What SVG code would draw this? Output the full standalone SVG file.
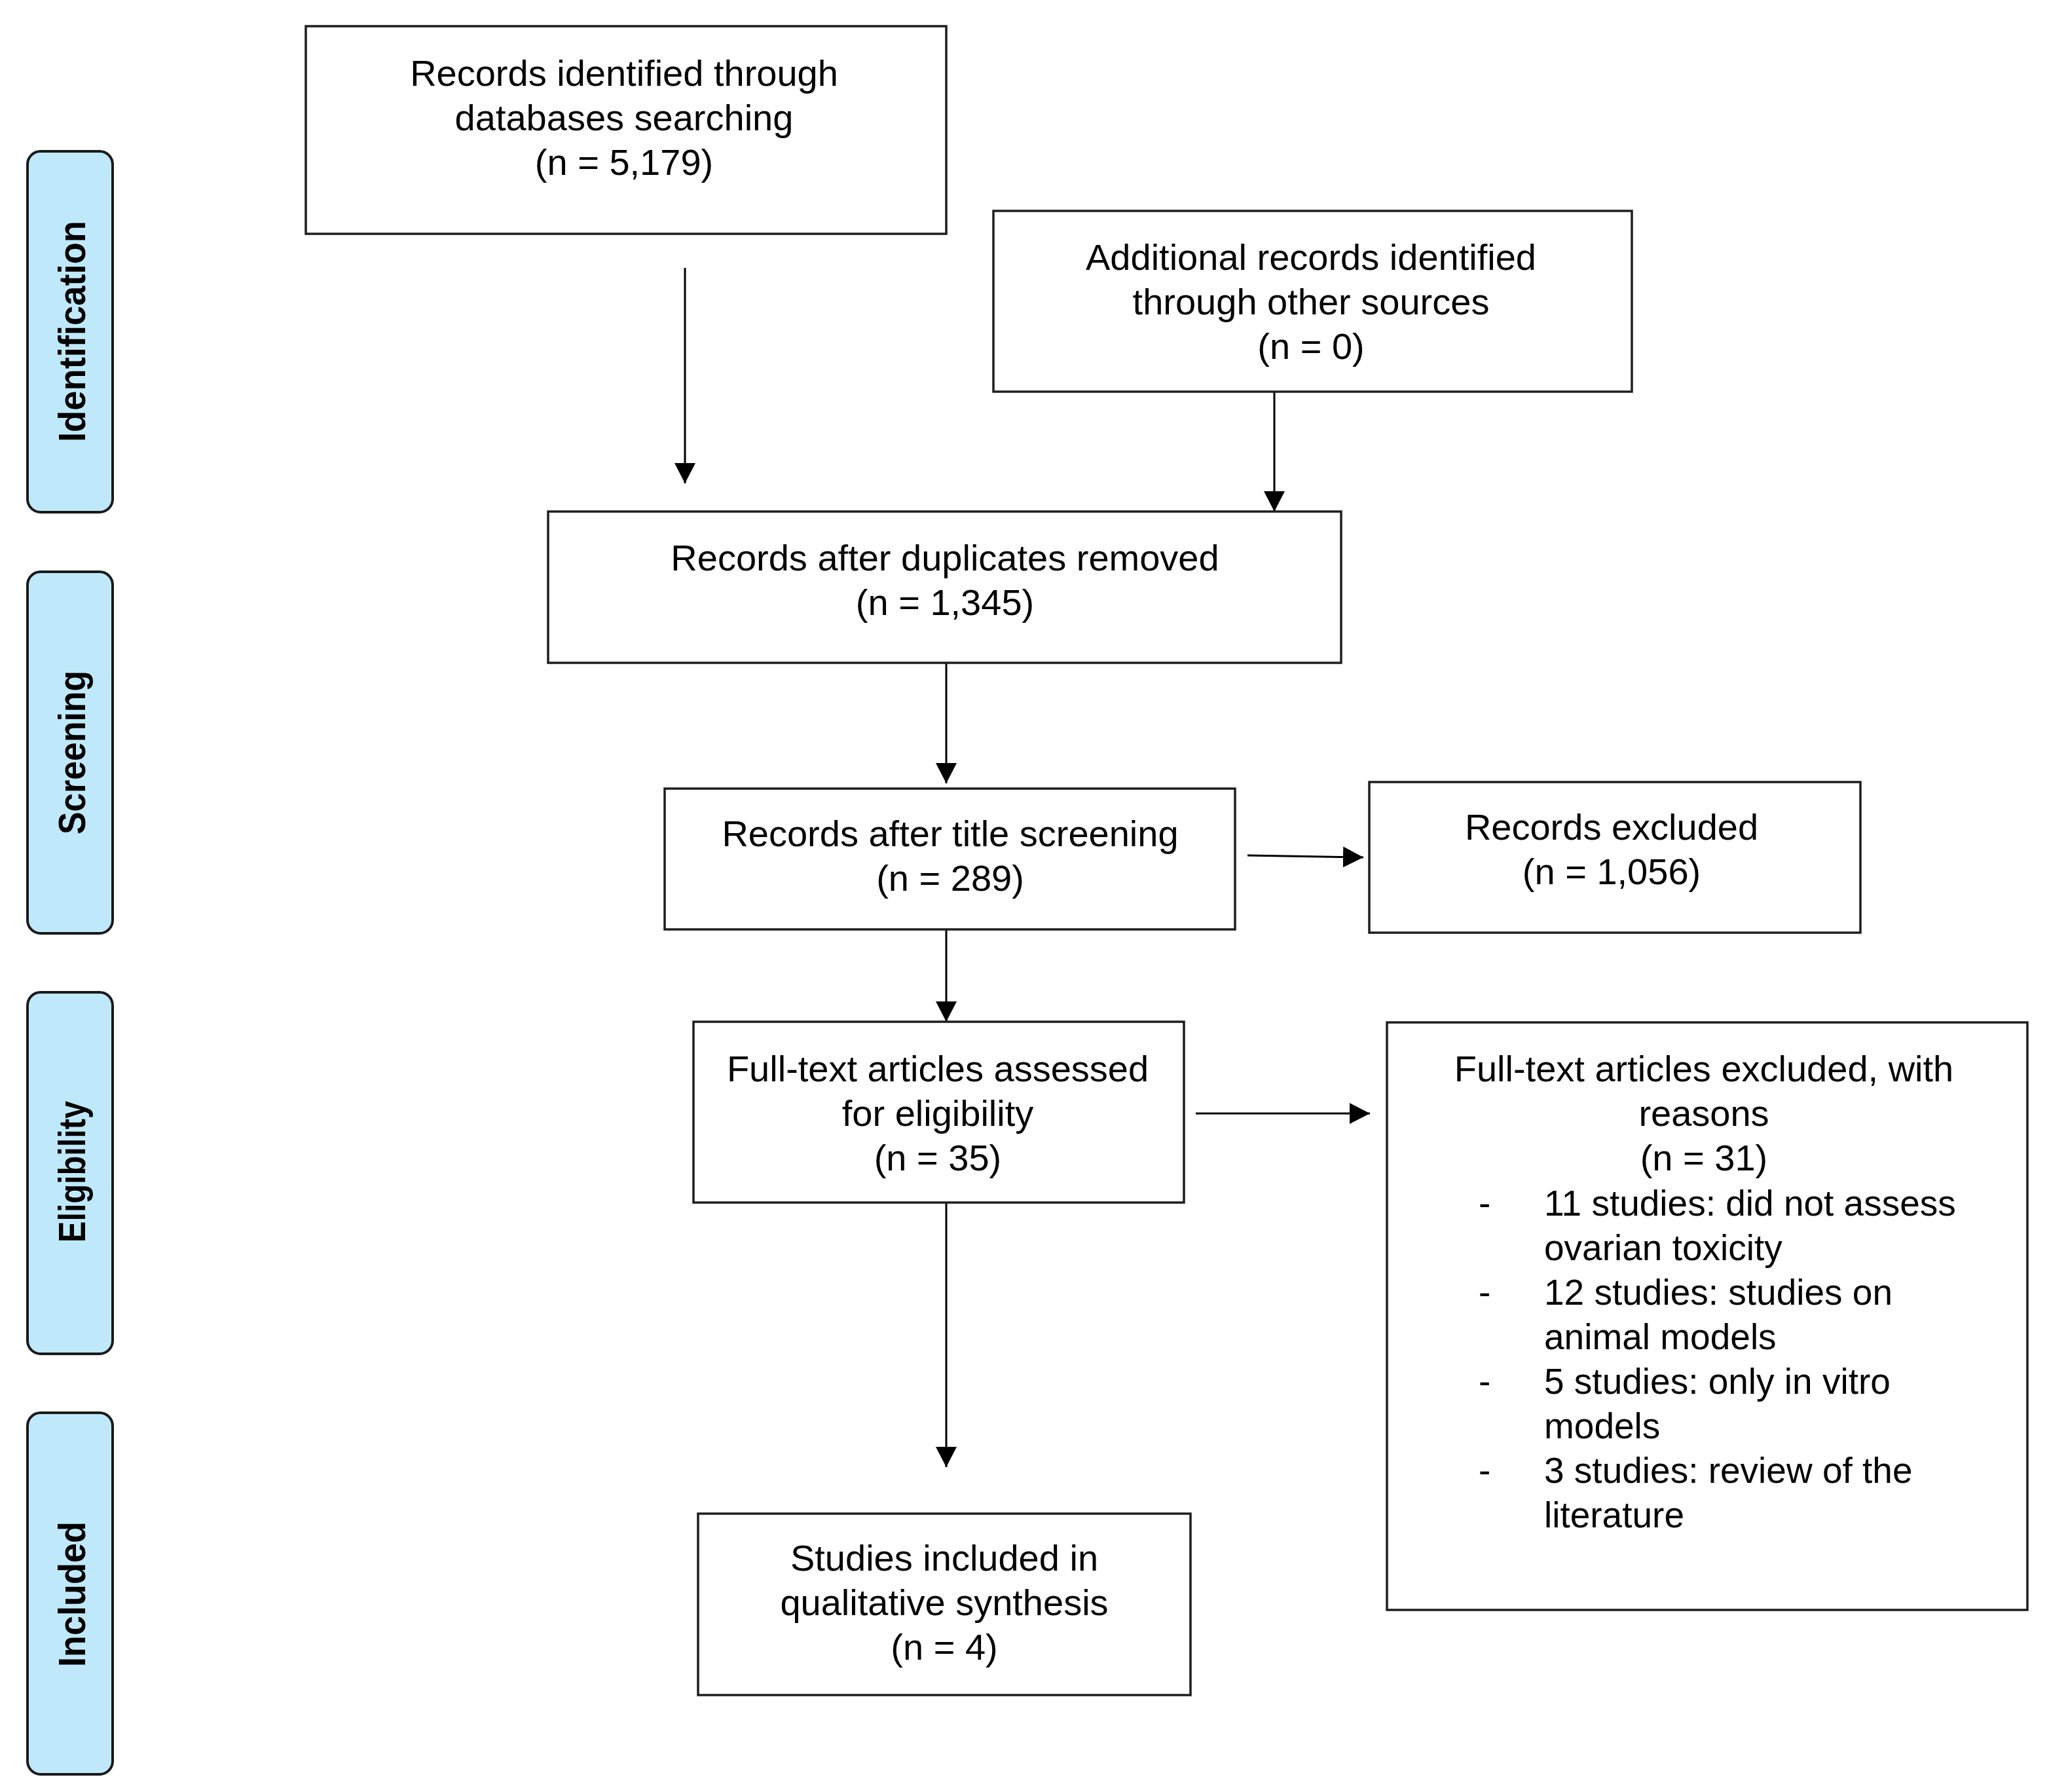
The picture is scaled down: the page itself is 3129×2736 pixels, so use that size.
<svg xmlns="http://www.w3.org/2000/svg" width="3129" height="2736" viewBox="0 0 3129 2736">
<style>
.box{fill:#ffffff;stroke:#1e1e1e;stroke-width:3.5}
.lab{fill:#bfe9fb;stroke:#1a1a1a;stroke-width:4}
.t{font-family:"Liberation Sans",Arial,sans-serif;font-size:56px;fill:#000;text-anchor:middle}
.tl{font-family:"Liberation Sans",Arial,sans-serif;font-size:55px;fill:#000}
.lt{font-family:"Liberation Sans",Arial,sans-serif;font-size:58px;font-weight:bold;fill:#000;text-anchor:middle}
.c{stroke:#000;stroke-width:3;fill:none}
</style>
<defs>
<marker id="ah" markerUnits="userSpaceOnUse" markerWidth="32" markerHeight="32" refX="31" refY="16" orient="auto">
<path d="M0,0 L31,16 L0,32 Z" fill="#000"/>
</marker>
</defs>
<rect width="3129" height="2736" fill="#ffffff"/>

<g id="stage-identification">
<rect class="lab" x="42" y="231" width="130" height="551" rx="20"/>
<text class="lt" transform="translate(130,506) rotate(-90)" textLength="338" lengthAdjust="spacingAndGlyphs">Identification</text>
</g>
<g id="stage-screening">
<rect class="lab" x="42" y="873" width="130" height="552" rx="20"/>
<text class="lt" transform="translate(130,1149) rotate(-90)" textLength="250" lengthAdjust="spacingAndGlyphs">Screening</text>
</g>
<g id="stage-eligibility">
<rect class="lab" x="42" y="1515" width="130" height="552" rx="20"/>
<text class="lt" transform="translate(130,1789) rotate(-90)" textLength="216" lengthAdjust="spacingAndGlyphs">Eligibility</text>
</g>
<g id="stage-included">
<rect class="lab" x="42" y="2157" width="130" height="552" rx="20"/>
<text class="lt" transform="translate(130,2434) rotate(-90)" textLength="222" lengthAdjust="spacingAndGlyphs">Included</text>
</g>

<g id="connectors">
<line class="c" x1="1046" y1="409" x2="1046" y2="738" marker-end="url(#ah)"/>
<line class="c" x1="1946" y1="598" x2="1946" y2="781" marker-end="url(#ah)"/>
<line class="c" x1="1445" y1="1012" x2="1445" y2="1196" marker-end="url(#ah)"/>
<line class="c" x1="1445" y1="1419" x2="1445" y2="1560" marker-end="url(#ah)"/>
<line class="c" x1="1445" y1="1836" x2="1445" y2="2240" marker-end="url(#ah)"/>
<line class="c" x1="1905" y1="1306" x2="2082" y2="1309" marker-end="url(#ah)"/>
<line class="c" x1="1826" y1="1700" x2="2092" y2="1700" marker-end="url(#ah)"/>
</g>

<g id="records-databases">
<rect class="box" x="467" y="40" width="978" height="317"/>
<text class="t" x="953" y="131">Records identified through</text>
<text class="t" x="953" y="199">databases searching</text>
<text class="t" x="953" y="267">(n = 5,179)</text>
</g>

<g id="records-other">
<rect class="box" x="1517" y="322" width="975" height="276"/>
<text class="t" x="2002" y="412">Additional records identified</text>
<text class="t" x="2002" y="480">through other sources</text>
<text class="t" x="2002" y="548">(n = 0)</text>
</g>

<g id="records-deduplicated">
<rect class="box" x="837" y="781" width="1211" height="231"/>
<text class="t" x="1443" y="871">Records after duplicates removed</text>
<text class="t" x="1443" y="939">(n = 1,345)</text>
</g>

<g id="records-title-screening">
<rect class="box" x="1015" y="1204" width="871" height="215"/>
<text class="t" x="1451" y="1292">Records after title screening</text>
<text class="t" x="1451" y="1360">(n = 289)</text>
</g>

<g id="records-excluded">
<rect class="box" x="2091" y="1194" width="750" height="230"/>
<text class="t" x="2461" y="1282">Records excluded</text>
<text class="t" x="2461" y="1350">(n = 1,056)</text>
</g>

<g id="fulltext-assessed">
<rect class="box" x="1059" y="1560" width="749" height="276"/>
<text class="t" x="1432" y="1651">Full-text articles assessed</text>
<text class="t" x="1432" y="1719">for eligibility</text>
<text class="t" x="1432" y="1787">(n = 35)</text>
</g>

<g id="fulltext-excluded">
<rect class="box" x="2118" y="1561" width="978" height="897"/>
<text class="t" x="2602" y="1651">Full-text articles excluded, with</text>
<text class="t" x="2602" y="1719">reasons</text>
<text class="t" x="2602" y="1787">(n = 31)</text>
<text class="tl" x="2258" y="1856">-</text>
<text class="tl" x="2358" y="1856">11 studies: did not assess</text>
<text class="tl" x="2358" y="1924">ovarian toxicity</text>
<text class="tl" x="2258" y="1992">-</text>
<text class="tl" x="2358" y="1992">12 studies: studies on</text>
<text class="tl" x="2358" y="2060">animal models</text>
<text class="tl" x="2258" y="2128">-</text>
<text class="tl" x="2358" y="2128">5 studies: only in vitro</text>
<text class="tl" x="2358" y="2196">models</text>
<text class="tl" x="2258" y="2264">-</text>
<text class="tl" x="2358" y="2264">3 studies: review of the</text>
<text class="tl" x="2358" y="2332">literature</text>
</g>

<g id="studies-included">
<rect class="box" x="1066" y="2311" width="752" height="277"/>
<text class="t" x="1442" y="2398">Studies included in</text>
<text class="t" x="1442" y="2466">qualitative synthesis</text>
<text class="t" x="1442" y="2534">(n = 4)</text>
</g>
</svg>
